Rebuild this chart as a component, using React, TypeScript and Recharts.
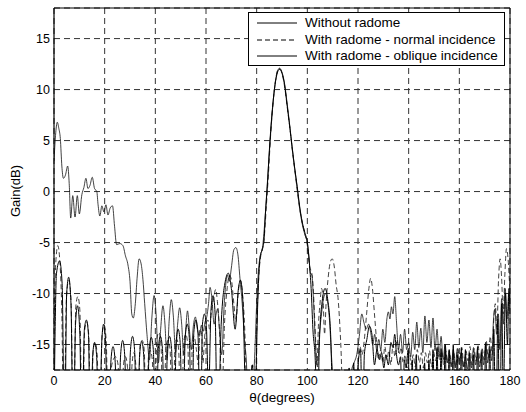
import { LineChart, Line, XAxis, YAxis, CartesianGrid, ReferenceLine, Legend, Label } from 'recharts';

// Gain patterns as [theta (deg), gain (dB)]; -25 marks nulls below the axis floor
const withoutRadome: [number, number][] = [
  [0, -22], [1, -8], [2.2, -6.8], [3.2, -9], [4.2, -25],
  [5, -10], [5.8, -8.4], [6.7, -11], [7.6, -25],
  [8.5, -13], [9.3, -11.2], [10.2, -14], [11, -25],
  [12, -13.5], [12.8, -12.6], [13.6, -14], [14.4, -25],
  [15.3, -16], [16, -14.8], [16.8, -16], [17.8, -25],
  [18.9, -14.5], [19.6, -13], [20.3, -14.5], [21.4, -25],
  [22.5, -16.5], [23.3, -15.2], [24.1, -16.5], [25.2, -25],
  [26.3, -16], [27.1, -14.6], [27.9, -16], [29, -25],
  [30.2, -15.5], [31, -14.2], [31.8, -15.5], [32.8, -25],
  [33.8, -16], [34.6, -14.7], [35.4, -16], [36.4, -25],
  [37.6, -15.5], [38.4, -14.3], [39.2, -15.5], [40.2, -25],
  [41.2, -15.4], [42, -14.2], [42.8, -15.4], [43.8, -25],
  [44.8, -15.4], [45.6, -14.2], [46.4, -15.4], [47.4, -25],
  [48.2, -14.8], [49, -13.5], [49.8, -14.8], [50.8, -25],
  [51.8, -14.3], [52.6, -13], [53.4, -14.3], [54.4, -25],
  [55.2, -13.8], [56, -12.6], [56.8, -13.8], [57.8, -25],
  [58.6, -13], [59.4, -12], [60.2, -13.5], [61, -20],
  [62, -11.5], [62.8, -10.2], [63.6, -12], [64.6, -25],
  [66, -13], [67.6, -8.8], [68.8, -8], [70, -9.5], [71.5, -13.5], [72.8, -9.5], [73.6, -8.7], [74.5, -10.5], [76.2, -25],
  [77.5, -19], [78.3, -17], [79.3, -25],
  [80, -15], [80.7, -9], [81.3, -6.6], [82, -5.8], [82.8, -5], [83.5, -2], [84.2, 0.5], [85, 4], [86, 7.5], [87, 10],
  [88, 11.5], [89, 12], [90, 11.6], [91, 10.5], [92, 8.5], [93, 6.5], [94, 4.3], [95, 2.3], [96, 0.5], [97, -1.5],
  [98, -3], [99, -4], [100, -5], [100.8, -7], [101.5, -9.5], [102.2, -13.5], [103.2, -17], [103.8, -25],
  [104.8, -14.5], [106, -10.5], [107, -9.5], [108, -10.5], [109.2, -14], [110.5, -25],
  [112, -19], [113, -17.8], [114, -25], [115.5, -25], [116.5, -17.3], [117.3, -25], [118.3, -16.8], [119.1, -25],
  [120.2, -16.5], [121, -15.5], [121.8, -25], [122.5, -16], [123.5, -14.5], [124.5, -13.2], [125.5, -14],
  [126.5, -17], [127.5, -15.5], [128.5, -16.5], [129.3, -15.8], [130.2, -17.3], [131, -16], [132, -17],
  [133, -14.8], [133.8, -15.3], [134.5, -14], [135.2, -16], [136, -17], [136.8, -16.2], [137.5, -25],
  [138.3, -16.5], [139, -17.3], [139.8, -15.5], [140.6, -25], [141.4, -16.5], [142.2, -25], [143, -16],
  [143.8, -25], [144.6, -17], [145.4, -25], [146.3, -16.8], [147.1, -25], [148, -16.5], [148.8, -25],
  [149.6, -15.5], [150.4, -25], [151.2, -15.3], [152, -25], [152.8, -15.4], [153.6, -25], [154.4, -15],
  [155.2, -25], [156, -15.5], [156.8, -25], [157.6, -15], [158.4, -25], [159.2, -16], [160, -25],
  [160.8, -15.3], [161.6, -25], [162.4, -15.5], [163.2, -25], [164, -15.8], [164.8, -25], [165.6, -16],
  [166.4, -25], [167.2, -15.2], [168, -25], [168.8, -15.8], [169.6, -25], [170.4, -15], [171.2, -25],
  [172, -15.5], [172.8, -25], [173.6, -13.5], [174.4, -25], [175.2, -12.5], [176, -25], [176.7, -11],
  [177.4, -20], [178.2, -10], [179, -15], [179.6, -9.5], [180, -12],
];

const normalIncidence: [number, number][] = [
  [0, -14], [0.7, -7], [1.5, -5.3], [2.3, -6.8], [3.1, -12], [3.9, -25],
  [4.9, -10.5], [5.8, -8.7], [6.7, -10.5], [7.7, -25], [8.6, -11.3], [9.4, -10.3], [10.2, -11.6], [11.2, -25],
  [12.1, -13.6], [12.9, -12.8], [13.7, -14], [14.6, -25], [15.5, -15.5], [16.2, -14.8], [17, -15.8], [18, -25],
  [19, -14], [19.8, -13.1], [20.6, -14.6], [21.6, -25], [22.8, -17], [24.3, -16.2], [25.3, -17], [26.2, -25],
  [27.5, -16.8], [28.2, -16.2], [29, -17.2], [29.8, -25], [30.8, -17], [31.5, -15.8], [32.3, -17], [33, -25],
  [34, -15], [34.8, -14.6], [35.6, -15.5], [36.5, -25], [37.3, -16.2], [38, -15.6], [38.8, -16.5], [39.6, -25],
  [40.6, -14.5], [41.4, -13.8], [42.2, -14.8], [43.2, -25], [44.2, -15.2], [45, -14.6], [45.8, -15.4], [46.8, -25],
  [47.8, -15], [48.5, -14.5], [49.2, -15.5], [50.2, -25], [51.2, -14.8], [52, -14], [52.8, -15], [53.8, -25],
  [54.6, -15], [55.3, -14.2], [56.2, -15.5], [57, -17], [57.6, -13.5], [58.3, -14], [58.8, -16.8], [59.4, -14.5],
  [60, -13], [60.8, -12.6], [61.4, -13.5], [62.2, -11.6], [63, -10.5], [63.8, -9.6], [64.5, -10.8], [65.4, -14],
  [66.3, -20], [67.3, -13], [68.4, -9.4], [69.2, -8.2], [70, -8.6], [71, -11], [71.8, -12.8], [72.7, -10],
  [73.5, -8.7], [74.4, -10], [75.5, -15], [76.4, -25], [77.5, -18.5], [78.4, -17], [79.3, -25],
  [80, -14], [80.8, -8.5], [81.5, -6.5], [82.2, -5.8], [83, -4.5], [83.8, -1.5], [84.6, 1.5], [85.5, 5.5],
  [86.5, 8.8], [87.5, 11], [88.5, 12], [89.3, 12], [90.2, 11.4], [91.2, 10], [92.2, 8], [93.2, 6], [94.2, 3.8],
  [95.2, 1.8], [96.2, -0.2], [97.2, -2], [98.2, -3.3], [99.2, -4.3], [100, -5.3], [100.5, -6.5], [101, -7.5],
  [101.6, -7.8], [102.2, -9], [103, -13], [103.8, -17], [104.4, -13], [105, -11], [105.6, -9.5], [106.2, -10.5],
  [106.8, -14], [107.4, -11], [108.2, -8.5], [109, -7], [109.8, -6.6], [110.6, -7.3], [111.4, -9.2], [112.1, -10.4],
  [112.8, -13], [113.5, -17], [114.2, -25], [115.5, -19], [116.6, -25], [118, -17.5], [119, -25], [120, -17],
  [120.8, -15.2], [121.6, -16], [122.5, -14.5], [123.4, -12], [124.3, -9.5], [125, -8.5], [125.7, -9.5],
  [126.5, -12], [127.3, -14.5], [128.1, -16.5], [129, -15.5], [129.8, -16.8], [130.6, -15.2], [131.4, -16.5],
  [132.2, -15.6], [133, -17], [133.8, -15], [134.6, -16.2], [135.4, -14.5], [136.2, -16], [137, -15.3],
  [137.8, -16.8], [138.6, -16], [139.4, -17.3], [140.2, -15.7], [141, -17], [141.8, -16], [142.6, -17.2],
  [143.4, -15.5], [144.2, -16.8], [145, -15.8], [145.8, -17.3], [146.6, -15.8], [147.4, -16.8], [148.2, -15.6],
  [149, -17.2], [149.8, -15.7], [150.6, -16.6], [151.4, -15.2], [152.2, -16.5], [153, -15.6], [153.8, -17],
  [154.6, -15.6], [155.4, -16.8], [156.2, -16], [157, -17], [157.8, -15.8], [158.6, -17.2], [159.4, -15.4],
  [160.2, -16.6], [161, -15.3], [161.8, -17.3], [162.6, -15.6], [163.4, -16.6], [164.2, -15.2], [165, -17],
  [165.8, -15.4], [166.6, -16.6], [167.4, -15.1], [168.2, -16.8], [169, -15.4], [169.8, -16.5], [170.6, -14.6],
  [171.4, -16.3], [172.2, -14.2], [173, -16], [173.6, -12.5], [174.2, -11], [174.8, -13.5], [175.5, -8.5],
  [176.1, -6.6], [176.7, -8.5], [177.3, -12], [178, -8], [178.6, -5.6], [179.2, -6.5], [180, -10],
];

const obliqueIncidence: [number, number][] = [
  [0, 3], [0.6, 5.5], [1.3, 6.8], [1.9, 6.2], [2.5, 5.2], [3.1, 2.5], [3.7, 1.3], [4.5, 1.6], [5.4, 2.5], [6, 0.8],
  [6.6, -2.6], [7.4, -0.4], [8.3, -2.5], [9.2, -0.4], [10, -2.2], [11, -0.3], [11.8, 0.4], [12.6, 1.3], [13.4, 0.3],
  [14.2, 0.6], [15.1, 1.4], [16, 0.3], [16.9, 0], [17.4, -1.3], [18.1, -2.4], [18.9, -1.4], [19.7, -2], [20.5, -1.3],
  [21.3, -2.3], [22.2, -1.6], [23.1, -1.4], [23.9, -3.4], [24.7, -5.2], [26, -5.1], [27.2, -5.3], [28.2, -6.3],
  [29.2, -7.2], [30, -8.8], [30.7, -12], [31.3, -12.4], [32.1, -11], [32.8, -8.5], [33.6, -6.6], [34.4, -7.1],
  [35.1, -8.6], [35.8, -11], [36.7, -14], [37.7, -16.5], [38.6, -12.5], [39.5, -10.2], [40.3, -12], [41.2, -16.8],
  [42.1, -13.5], [43, -11.2], [43.8, -13], [44.6, -16.5], [45.5, -12.5], [46.3, -10.6], [47.1, -12.2], [48, -15.8],
  [48.8, -13], [49.6, -11.4], [50.4, -13], [51.2, -16], [52, -13.5], [52.7, -11.7], [53.4, -13.4], [54.2, -15.5],
  [55, -13.2], [55.8, -12.3], [56.6, -13.5], [57.4, -14.2], [58.2, -13.1], [58.9, -13.7], [59.6, -12.8],
  [60.3, -12.3], [61, -11], [61.6, -9.4], [62.3, -10.4], [63.2, -13], [64, -12], [64.6, -11.5], [65.3, -13.5],
  [66.2, -16], [67.2, -11], [68.5, -8.2], [69.2, -8.8], [70, -7.5], [71, -5.7], [71.8, -5.5], [72.6, -6.2],
  [73.4, -8.5], [74.3, -11], [75.2, -14.5], [76, -17], [77, -25], [78.5, -20], [79.4, -15], [80, -11],
  [80.8, -7.5], [81.5, -6.2], [82.3, -5.5], [83.2, -3], [84, 0], [85, 3.8], [86, 7.3], [87, 10], [88, 11.6],
  [89, 12.1], [90, 11.7], [91, 10.6], [92, 8.7], [93, 6.6], [94, 4.4], [95, 2.3], [96, 0.3], [97, -1.7],
  [98, -3.2], [99, -4.2], [100, -5], [100.6, -6.3], [101.2, -8], [101.8, -8.2], [102.4, -10.5], [103.2, -15],
  [104, -17.2], [104.8, -14], [105.6, -12], [106.4, -10.5], [107.2, -10], [108, -10.8], [108.8, -12.8],
  [109.5, -16], [110.3, -19], [111.5, -25], [113, -25], [114.5, -20], [116, -25], [117.5, -17.5], [118.6, -16.7],
  [119.5, -16], [120.5, -14.2], [121.5, -12], [122.3, -12.8], [123.2, -13.5], [124.2, -13], [125, -13.8],
  [125.8, -15], [126.6, -14], [127.4, -15.6], [128.2, -14.5], [129, -15.5], [129.8, -13.5], [130.6, -14.8],
  [131.4, -12.5], [132, -11.8], [132.6, -12.5], [133.2, -11.3], [133.8, -12], [134.5, -10.3], [135.2, -12.8],
  [136, -15.5], [136.8, -14], [137.6, -15.8], [138.4, -13.5], [139.2, -15.5], [140, -14.8], [140.8, -16.2],
  [141.6, -13.8], [142.4, -15.5], [143.2, -12.8], [144, -15.3], [144.8, -13.4], [145.6, -15.8], [146.4, -12.2],
  [147.2, -14.8], [148, -12.6], [148.8, -15.3], [149.6, -12.4], [150.4, -15.6], [151.2, -13.5], [152, -16.2],
  [152.8, -14.2], [153.6, -16.5], [154.4, -15], [155.2, -16.8], [156, -15.6], [156.8, -17.2], [157.6, -15.5],
  [158.4, -17.3], [159.2, -15.4], [160, -17], [160.8, -15.8], [161.6, -17.2], [162.4, -16.2], [163.2, -17.4],
  [164, -16], [164.8, -17.3], [165.6, -15.3], [166.4, -17], [167.2, -15.8], [168, -17.2], [168.8, -15.5],
  [169.6, -17], [170.4, -14.8], [171.2, -16.8], [172, -15.2], [172.8, -16.6], [173.5, -12.5], [174.1, -11.5],
  [174.7, -14], [175.4, -12], [176, -15.5], [176.7, -10.5], [177.4, -13], [178.1, -9.5], [178.8, -12.5],
  [179.5, -10], [180, -11],
];

const xTicks = [0, 20, 40, 60, 80, 100, 120, 140, 160, 180];
const yTicks = [-15, -10, -5, 0, 5, 10, 15];

const FONT = '"Liberation Sans", Arial, Helvetica, sans-serif';

const toPoints = (pairs: [number, number][]) => pairs.map(([x, y]) => ({ x, y }));

const legendItems = [
  { label: 'Without radome', dash: undefined },
  { label: 'With radome - normal incidence', dash: '5 3' },
  { label: 'With radome - oblique incidence', dash: undefined },
];

const renderLegend = () => (
  <div
    style={{
      width: 257,
      height: 54,
      boxSizing: 'border-box',
      border: '1.5px solid #000',
      background: '#fff',
      padding: '2px 0 0 8px',
      fontFamily: FONT,
      fontSize: 13.5,
      lineHeight: '16px',
      color: '#000',
      whiteSpace: 'nowrap',
    }}
  >
    {legendItems.map((item) => (
      <div key={item.label} style={{ display: 'flex', alignItems: 'center', height: 16.5 }}>
        <svg width={42} height={6} style={{ marginRight: 6, flexShrink: 0 }}>
          <line x1={0} y1={3} x2={40} y2={3} stroke="#000" strokeWidth={1} strokeDasharray={item.dash} />
        </svg>
        <span>{item.label}</span>
      </div>
    ))}
  </div>
);

export default function App() {
  return (
    <div style={{ position: 'absolute', left: 0, top: 0, width: 526, height: 412, background: '#fff' }}>
      <LineChart
        width={526}
        height={412}
        margin={{ top: 8, right: 16, bottom: 0, left: 0 }}
        style={{ fontFamily: FONT }}
      >
        <CartesianGrid stroke="#333" strokeDasharray="6 4" strokeWidth={1} />
        <XAxis
          type="number"
          dataKey="x"
          domain={[0, 180]}
          ticks={xTicks}
          allowDataOverflow
          height={42}
          tickLine={false}
          tickSize={4}
          tickMargin={2}
          axisLine={{ stroke: '#000', strokeWidth: 1.2 }}
          tick={{ fontSize: 12.5, fill: '#000', fontFamily: FONT }}
        >
          <Label
            content={() => (
              <text x={282} y={402} textAnchor="middle" fontSize={13.5} fill="#000" fontFamily={FONT}>
                θ(degrees)
              </text>
            )}
          />
        </XAxis>
        <YAxis
          type="number"
          domain={[-17.5, 18]}
          ticks={yTicks}
          allowDataOverflow
          width={54}
          tickLine={false}
          tickSize={2}
          tickMargin={2}
          axisLine={{ stroke: '#000', strokeWidth: 1.2 }}
          tick={{ fontSize: 12.5, fill: '#000', fontFamily: FONT }}
        >
          <Label
            content={() => (
              <text
                x={20}
                y={191}
                transform="rotate(-90 20 191)"
                textAnchor="middle"
                fontSize={13}
                fill="#000"
                fontFamily={FONT}
              >
                Gain(dB)
              </text>
            )}
          />
        </YAxis>
        <ReferenceLine y={18} stroke="#000" strokeWidth={1} />
        <ReferenceLine x={180} stroke="#000" strokeWidth={1} />
        <Line
          data={toPoints(normalIncidence)}
          dataKey="y"
          name="With radome - normal incidence"
          type="monotone"
          stroke="#111"
          strokeWidth={0.8}
          strokeDasharray="5 3"
          dot={false}
          isAnimationActive={false}
        />
        <Line
          data={toPoints(obliqueIncidence)}
          dataKey="y"
          name="With radome - oblique incidence"
          type="monotone"
          stroke="#111"
          strokeWidth={0.8}
          dot={false}
          isAnimationActive={false}
        />
        <Line
          data={toPoints(withoutRadome)}
          dataKey="y"
          name="Without radome"
          type="monotone"
          stroke="#000"
          strokeWidth={1}
          dot={false}
          isAnimationActive={false}
        />
        <Legend
          layout="vertical"
          align="center"
          verticalAlign="middle"
          content={renderLegend}
          wrapperStyle={{ position: 'absolute', left: 248, top: 12, width: 257, height: 54 }}
        />
      </LineChart>
    </div>
  );
}
